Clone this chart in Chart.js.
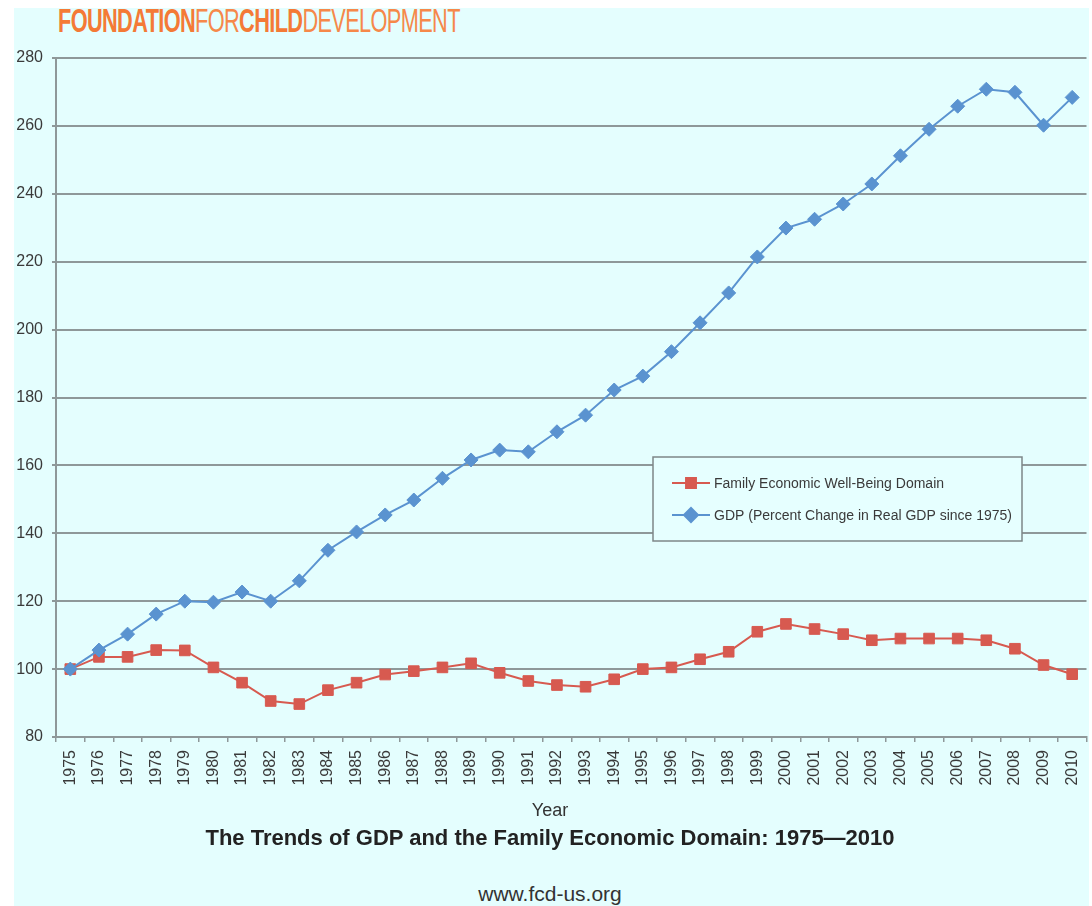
<!DOCTYPE html>
<html>
<head>
<meta charset="utf-8">
<title>GDP and Family Economic Domain</title>
<script src="https://cdn.jsdelivr.net/npm/chart.js@4.4.1/dist/chart.umd.min.js"></script>
<style>
    body { margin: 0; background: #fff; font-family: Arial, "Liberation Sans", sans-serif; }
    #page { position: absolute; left: 14px; top: 8px; width: 1075px; height: 898px; background: #e4fefe; overflow: hidden; }
    #brand { position: absolute; left: 44px; top: -6px; font-size: 34px; line-height: 36px; color: #f47a36; white-space: nowrap; transform-origin: 0 0; letter-spacing: -1px; }
    #brand b { font-weight: bold; }
    #brand span { font-weight: normal; color: #f6884a; }
    #chart-wrap { position: absolute; left: 0; top: 0; width: 1081px; height: 800px; }
    .caption { position: absolute; left: 36px; width: 1000px; text-align: center; color: #222; }
    #year { top: 792px; font-size: 18px; line-height: 20px; color: #333; }
    #title { top: 817px; font-size: 22px; line-height: 26px; font-weight: bold; }
    #url { top: 874px; font-size: 21px; line-height: 24px; color: #333; }
</style>
</head>
<body>
<div id="page">
    <div id="brand"><b>FOUNDATION</b><span>FOR</span><b>CHILD</b><span>DEVELOPMENT</span></div>
    <div id="chart-wrap"><canvas id="trend-chart"></canvas></div>
    <div class="caption" id="year">Year</div>
    <div class="caption" id="title">The Trends of GDP and the Family Economic Domain: 1975—2010</div>
    <div class="caption" id="url">www.fcd-us.org</div>
</div>
<script>
// Years on the x axis
const years = ['1975', '1976', '1977', '1978', '1979', '1980', '1981', '1982', '1983', '1984',
    '1985', '1986', '1987', '1988', '1989', '1990', '1991', '1992', '1993', '1994',
    '1995', '1996', '1997', '1998', '1999', '2000', '2001', '2002', '2003', '2004',
    '2005', '2006', '2007', '2008', '2009', '2010'];

// Family Economic Well-Being Domain (1975 = 100)
const familyDomain = [100, 103.6, 103.6, 105.6, 105.5, 100.5, 96, 90.6, 89.7, 93.8,
    96, 98.4, 99.4, 100.5, 101.7, 98.9, 96.5, 95.3, 94.8, 97,
    100, 100.5, 102.9, 105.1, 111, 113.3, 111.8, 110.3, 108.5, 109,
    109, 109, 108.5, 106, 101.2, 98.5];

// GDP, percent change in real GDP since 1975 (1975 = 100)
const gdpIndex = [100, 105.6, 110.3, 116.2, 120, 119.7, 122.7, 120, 126, 135,
    140.4, 145.4, 149.8, 156.2, 161.6, 164.5, 164, 169.9, 174.8, 182.2,
    186.3, 193.5, 202, 210.8, 221.4, 229.9, 232.5, 237, 242.9, 251.2,
    259, 265.8, 270.8, 269.9, 260.2, 268.4];

const seriesNames = ['Family Economic Well-Being Domain', 'GDP (Percent Change in Real GDP since 1975)'];

const yMin = 80;
const yMax = 280;
const yStep = 20;

const RED = '#d75a50';
const BLUE = '#5a93d0';
const GRID = '#8e9899';
const TEXT = '#3a3a3a';

// Brand line is a condensed logo, squeeze it to its width
const brand = document.getElementById('brand');
brand.style.transform = 'scaleX(' + (402 / brand.offsetWidth) + ')';

// Legend drawn inside the plot, like the original
const insideLegend = {
    id: 'insideLegend',
    afterDraw(chart) {
        const ctx = chart.ctx;
        const x = 639, y = 449, w = 369, h = 84;
        ctx.save();
        ctx.fillStyle = '#e6ffff';
        ctx.fillRect(x, y, w, h);
        ctx.strokeStyle = '#7d8788';
        ctx.lineWidth = 1.5;
        ctx.strokeRect(x, y, w, h);

        const items = [
            { label: seriesNames[0], color: RED, style: 'rect', cy: y + 26 },
            { label: seriesNames[1], color: BLUE, style: 'rectRot', cy: y + 58 }
        ];
        ctx.font = '14px Arial, "Liberation Sans", sans-serif';
        ctx.textBaseline = 'middle';
        items.forEach(item => {
            ctx.strokeStyle = item.color;
            ctx.lineWidth = 2;
            ctx.beginPath();
            ctx.moveTo(x + 19, item.cy);
            ctx.lineTo(x + 57, item.cy);
            ctx.stroke();
            ctx.fillStyle = item.color;
            Chart.helpers.drawPoint(ctx, { pointStyle: item.style, radius: 7, rotation: 0, borderWidth: 1 }, x + 38, item.cy);
            ctx.fill();
            ctx.fillStyle = TEXT;
            ctx.fillText(item.label, x + 61, item.cy + 1);
        });
        ctx.restore();
    }
};

const ctx = document.getElementById('trend-chart').getContext('2d');
new Chart(ctx, {
    type: 'line',
    data: {
        labels: years,
        datasets: [
            {
                label: seriesNames[0],
                data: familyDomain,
                borderColor: RED,
                backgroundColor: RED,
                borderWidth: 2,
                pointStyle: 'rect',
                pointRadius: 7.5,
                pointBorderWidth: 1,
                tension: 0,
                order: 2
            },
            {
                label: seriesNames[1],
                data: gdpIndex,
                borderColor: BLUE,
                backgroundColor: BLUE,
                borderWidth: 2,
                pointStyle: 'rectRot',
                pointRadius: 7,
                pointBorderWidth: 1,
                tension: 0,
                order: 1
            }
        ]
    },
    options: {
        responsive: true,
        maintainAspectRatio: false,
        animation: false,
        layout: {
            padding: { top: 50, right: 0, left: 0, bottom: 0 }
        },
        plugins: {
            legend: { display: false },
            tooltip: { enabled: false }
        },
        scales: {
            x: {
                offset: true,
                grid: {
                    offset: true,
                    drawOnChartArea: false,
                    drawTicks: true,
                    tickLength: 5,
                    color: GRID,
                    lineWidth: 1.5
                },
                border: { color: GRID, width: 2 },
                ticks: {
                    autoSkip: false,
                    minRotation: 90,
                    maxRotation: 90,
                    padding: 8,
                    color: TEXT,
                    font: { family: 'Arial, "Liberation Sans", sans-serif', size: 16 }
                },
                afterFit: function(scale) {
                    scale.height = 71;
                    scale.paddingLeft = 0;
                    scale.paddingRight = 0;
                }
            },
            y: {
                min: yMin,
                max: yMax,
                ticks: {
                    stepSize: yStep,
                    padding: 9,
                    color: TEXT,
                    font: { family: 'Arial, "Liberation Sans", sans-serif', size: 16 }
                },
                grid: {
                    color: GRID,
                    lineWidth: 2,
                    tickLength: 4
                },
                border: { color: GRID, width: 2 },
                afterFit: function(scale) {
                    scale.width = 42;
                }
            }
        }
    },
    plugins: [insideLegend]
});
</script>
</body>
</html>
